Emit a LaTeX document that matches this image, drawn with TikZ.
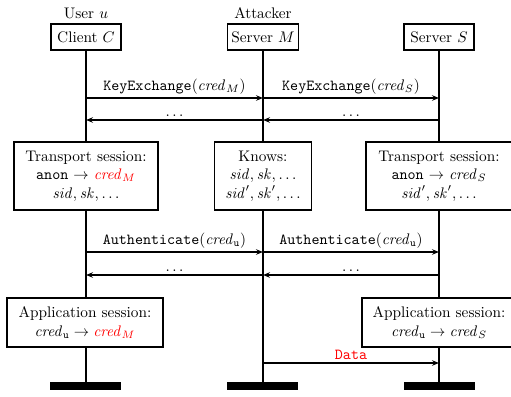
\documentclass[tikz,border=0pt]{standalone}
\usetikzlibrary{arrows.meta}
\def\unitpx{0.653pt}
\begin{document}
\begin{tikzpicture}[x=0.653pt,y=-0.653pt,
  partybox/.style={draw,line width=1pt,minimum width=70*\unitpx,minimum height=26*\unitpx,inner sep=0pt},
  notebox/.style={draw,line width=1pt,align=center,inner sep=0pt},
  endbar/.style={fill=black,minimum width=71*\unitpx,minimum height=8*\unitpx,inner sep=0pt},
  lifeline/.style={line width=0.8pt},
  msg/.style={line width=0.8pt,-{Stealth[length=4.5pt,width=3.5pt]}},
  msglabel/.style={above,inner sep=2pt}]
\clip (0,0) rectangle (511,397);

% participants
\node (userlbl) at (86,13) {User $u$};
\node (attlbl) at (263,13) {Attacker};
\node[partybox] (C) at (86,37) {Client $C$};
\node[partybox,minimum width=71*\unitpx] (M) at (263,37) {Server $M$};
\node[partybox] (S) at (439,37) {Server $S$};

% session states
\node[notebox,minimum width=144*\unitpx,minimum height=68*\unitpx] (TC) at (86,176)
  {Transport session:\\ \texttt{anon} $\to$ {\color{red}$\mathit{cred}_M$}\\ $\mathit{sid},\mathit{sk},\ldots$};
\node[notebox,minimum width=97*\unitpx,minimum height=68*\unitpx] (K) at (263,176)
  {Knows:\\ $\mathit{sid},\mathit{sk},\ldots$\\ $\mathit{sid}',\mathit{sk}',\ldots$};
\node[notebox,minimum width=146*\unitpx,minimum height=68*\unitpx] (TS) at (439,176)
  {Transport session:\\ \texttt{anon} $\to$ $\mathit{cred}_S$\\ $\mathit{sid}',\mathit{sk}',\ldots$};
\node[notebox,minimum width=156*\unitpx,minimum height=49*\unitpx] (AC) at (85,322.5)
  {Application session:\\ $\mathit{cred}_{\mathtt{u}}\to{\color{red}\mathit{cred}_M}$};
\node[notebox,minimum width=154*\unitpx,minimum height=49*\unitpx] (AS) at (439,322.5)
  {Application session:\\ $\mathit{cred}_{\mathtt{u}}\to\mathit{cred}_S$};

% end bars
\node[endbar] (barC) at (85.5,386) {};
\node[endbar] (barM) at (262.5,386) {};
\node[endbar] (barS) at (439.5,386) {};

% lifelines
\draw[lifeline] (C.south) -- (TC.north -| C.south);
\draw[lifeline] (TC.south -| C.south) -- (AC.north -| C.south);
\draw[lifeline] (AC.south -| C.south) -- (barC.north -| C.south);
\draw[lifeline] (M.south) -- (K.north -| M.south);
\draw[lifeline] (K.south -| M.south) -- (barM.north -| M.south);
\draw[lifeline] (S.south) -- (TS.north -| S.south);
\draw[lifeline] (TS.south -| S.south) -- (AS.north -| S.south);
\draw[lifeline] (AS.south -| S.south) -- (barS.north -| S.south);

% key exchange
\draw[msg] (C |- 0,98) -- node[msglabel]{\texttt{KeyExchange}($\mathit{cred}_M$)} (M |- 0,98);
\draw[msg] (M |- 0,98) -- node[msglabel]{\texttt{KeyExchange}($\mathit{cred}_S$)} (S |- 0,98);
\draw[msg] (M |- 0,120) -- node[msglabel]{$\ldots$} (C |- 0,120);
\draw[msg] (S |- 0,120) -- node[msglabel]{$\ldots$} (M |- 0,120);

% authentication
\draw[msg] (C |- 0,252) -- node[msglabel]{\texttt{Authenticate}($\mathit{cred}_{\mathtt{u}}$)} (M |- 0,252);
\draw[msg] (M |- 0,252) -- node[msglabel]{\texttt{Authenticate}($\mathit{cred}_{\mathtt{u}}$)} (S |- 0,252);
\draw[msg] (M |- 0,275) -- node[msglabel]{$\ldots$} (C |- 0,275);
\draw[msg] (S |- 0,275) -- node[msglabel]{$\ldots$} (M |- 0,275);

% application data
\draw[msg] (M |- 0,363) -- node[msglabel,text=red,font=\ttfamily]{Data} (S |- 0,363);
\end{tikzpicture}
\end{document}
